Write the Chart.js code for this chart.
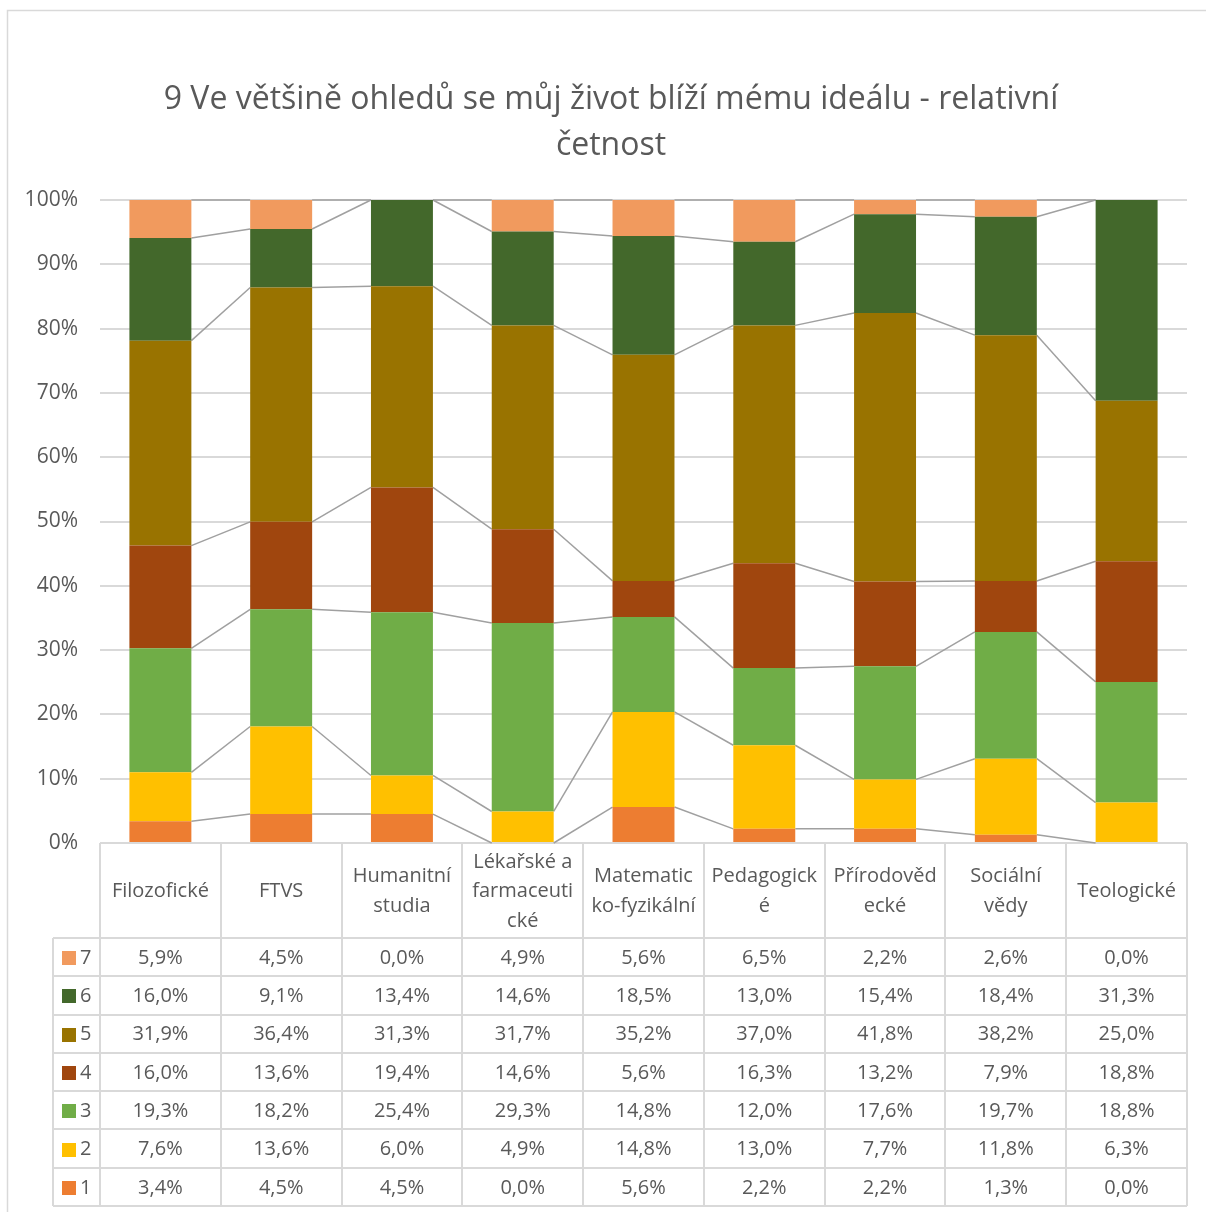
<!DOCTYPE html>
<html>
<head>
<meta charset="utf-8">
<script src="https://cdn.jsdelivr.net/npm/chart.js@4.4.0/dist/chart.umd.min.js"></script>
<style>
html,body{margin:0;padding:0;background:#fff;}
#wrap{width:1206px;height:1212px;position:relative;}
</style>
</head>
<body>
<div id="wrap"><canvas id="c" width="1206" height="1212"></canvas></div>
<script>
// ---- DATA ----
const titleLines = ["9 Ve většině ohledů se můj život blíží mému ideálu - relativní", "četnost"];
const categories = ["Filozofické", "FTVS", "Humanitní studia", "Lékařské a farmaceutické", "Matematicko-fyzikální", "Pedagogické", "Přírodovědecké", "Sociální vědy", "Teologické"];
const categoryLines = [["Filozofické"], ["FTVS"], ["Humanitní", "studia"], ["Lékařské a", "farmaceuti", "cké"], ["Matematic", "ko-fyzikální"], ["Pedagogick", "é"], ["Přírodověd", "ecké"], ["Sociální", "vědy"], ["Teologické"]];
const seriesNames = ["1", "2", "3", "4", "5", "6", "7"];
const s1 = [3.4, 4.5, 4.5, 0.0, 5.6, 2.2, 2.2, 1.3, 0.0];
const s2 = [7.6, 13.6, 6.0, 4.9, 14.8, 13.0, 7.7, 11.8, 6.3];
const s3 = [19.3, 18.2, 25.4, 29.3, 14.8, 12.0, 17.6, 19.7, 18.8];
const s4 = [16.0, 13.6, 19.4, 14.6, 5.6, 16.3, 13.2, 7.9, 18.8];
const s5 = [31.9, 36.4, 31.3, 31.7, 35.2, 37.0, 41.8, 38.2, 25.0];
const s6 = [16.0, 9.1, 13.4, 14.6, 18.5, 13.0, 15.4, 18.4, 31.3];
const s7 = [5.9, 4.5, 0.0, 4.9, 5.6, 6.5, 2.2, 2.6, 0.0];
const yTicks = ["0%", "10%", "20%", "30%", "40%", "50%", "60%", "70%", "80%", "90%", "100%"];
// ---- STYLE ----
const seriesValues = [s1, s2, s3, s4, s5, s6, s7];
const colors = ["#ED7D31", "#FFC000", "#70AD47", "#A0460E", "#997300", "#43682B", "#F19A5E"];
const FONT = "'Open Sans', 'Noto Sans', sans-serif";
const TEXT = "#595959";
const GRID = "#D9D9D9";

// 100% stacked: normalise each category to its total
const totals = categories.map((_, i) => seriesValues.reduce((a, s) => a + s[i], 0));
const datasets = seriesValues.map((s, k) => ({
  label: seriesNames[k],
  data: s.map((v, i) => v / totals[i] * 100),
  backgroundColor: colors[k],
  borderWidth: 0,
  barPercentage: 0.513,
  categoryPercentage: 1.0
}));

const fmt = v => v.toFixed(1).replace('.', ',') + '%';

const extras = {
  id: 'extras',
  beforeDatasetsDraw(chart) {
    // series lines
    const ctx = chart.ctx;
    ctx.save();
    ctx.strokeStyle = "#A0A0A0";
    ctx.lineWidth = 1.5;
    chart.data.datasets.forEach((ds, di) => {
      const meta = chart.getDatasetMeta(di);
      for (let i = 0; i < meta.data.length - 1; i++) {
        const a = meta.data[i], b = meta.data[i + 1];
        ctx.beginPath();
        ctx.moveTo(a.x + a.width / 2, a.y);
        ctx.lineTo(b.x - b.width / 2, b.y);
        ctx.stroke();
      }
    });
    ctx.restore();
  },
  afterDraw(chart) {
    const ctx = chart.ctx;
    const area = chart.chartArea;
    const xs = chart.scales.x;
    const n = categories.length;
    const cw = (area.right - area.left) / n;
    ctx.save();
    // outer border
    ctx.strokeStyle = GRID;
    ctx.lineWidth = 1.5;
    ctx.strokeRect(7.5, 10.5, 1210, 1220);
    // title
    ctx.fillStyle = TEXT;
    ctx.font = "32px " + FONT;
    ctx.textAlign = "center";
    ctx.textBaseline = "middle";
    ctx.fillText(titleLines[0], 611, 100);
    ctx.fillText(titleLines[1], 611, 146);

    // table
    const headTop = area.bottom, headBot = 938, tabBot = 1206, legLeft = 53;
    const rh = (tabBot - headBot) / 7;
    ctx.strokeStyle = GRID;
    ctx.lineWidth = 2;
    for (let i = 0; i <= n; i++) {
      const x = Math.round(area.left + i * cw);
      ctx.beginPath(); ctx.moveTo(x, headTop); ctx.lineTo(x, tabBot); ctx.stroke();
    }
    ctx.beginPath(); ctx.moveTo(legLeft, headBot); ctx.lineTo(legLeft, tabBot); ctx.stroke();
    for (let r = 0; r <= 7; r++) {
      const y = Math.round(headBot + r * rh);
      ctx.beginPath(); ctx.moveTo(legLeft, y); ctx.lineTo(area.right, y); ctx.stroke();
    }
    // header labels
    ctx.fillStyle = TEXT;
    ctx.font = "20px " + FONT;
    ctx.textAlign = "center";
    ctx.textBaseline = "middle";
    const lh = 29.5;
    const hc = (headTop + headBot) / 2 + 1;
    categoryLines.forEach((lines, i) => {
      const cx = xs.getPixelForValue(i);
      lines.forEach((t, j) => {
        ctx.fillText(t, cx, hc + (j - (lines.length - 1) / 2) * lh);
      });
    });
    // rows: series 7 at top down to 1
    for (let r = 0; r < 7; r++) {
      const k = 6 - r;
      const cy = headBot + r * rh + rh / 2 + 1;
      ctx.fillStyle = colors[k];
      ctx.fillRect(62, Math.round(cy - 7), 14, 14);
      ctx.fillStyle = TEXT;
      ctx.textAlign = "left";
      ctx.fillText(seriesNames[k], 80, cy);
      ctx.textAlign = "center";
      seriesValues[k].forEach((v, i) => {
        ctx.fillText(fmt(v), xs.getPixelForValue(i), cy);
      });
    }
    ctx.restore();
  }
};

new Chart(document.getElementById('c'), {
  type: 'bar',
  data: { labels: categories, datasets },
  options: {
    responsive: false,
    animation: false,
    devicePixelRatio: 1,
    layout: { padding: { left: 0, right: 19, top: 200, bottom: 369 } },
    plugins: { legend: { display: false }, tooltip: { enabled: false }, title: { display: false } },
    scales: {
      x: { stacked: true, display: false },
      y: {
        stacked: true,
        min: 0, max: 100,
        afterFit(s) { s.width = 100; },
        border: { display: false },
        grid: { color: GRID, lineWidth: 2, drawTicks: false },
        ticks: {
          stepSize: 10,
          padding: 22,
          color: TEXT,
          font: { family: FONT, size: 21 },
          callback: (v) => yTicks[Math.round(v / 10)]
        }
      }
    }
  },
  plugins: [extras]
});
</script>
</body>
</html>
